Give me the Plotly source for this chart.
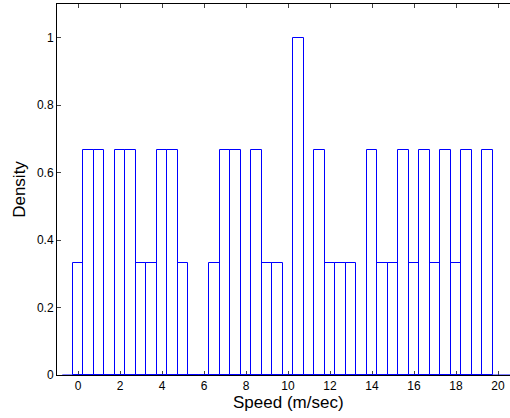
import plotly.graph_objects as go

bin_centers = [0.0, 0.5, 1.0, 1.5, 2.0, 2.5, 3.0, 3.5, 4.0, 4.5, 5.0, 5.5, 6.0, 6.5,
               7.0, 7.5, 8.0, 8.5, 9.0, 9.5, 10.0, 10.5, 11.0, 11.5, 12.0, 12.5, 13.0,
               13.5, 14.0, 14.5, 15.0, 15.5, 16.0, 16.5, 17.0, 17.5, 18.0, 18.5, 19.0, 19.5]
density = [1/3, 2/3, 2/3, 0, 2/3, 2/3, 1/3, 1/3, 2/3, 2/3, 1/3, 0, 0, 1/3,
           2/3, 2/3, 0, 2/3, 1/3, 1/3, 0, 1.0, 0, 2/3, 1/3, 1/3, 1/3,
           0, 2/3, 1/3, 1/3, 2/3, 1/3, 2/3, 1/3, 2/3, 1/3, 2/3, 0, 2/3]
bin_width = 0.5
baseline_x = [-0.75, 21.0]
baseline_y = [0, 0]
x_ticks = [0, 2, 4, 6, 8, 10, 12, 14, 16, 18, 20]
y_ticks = [0, 0.2, 0.4, 0.6, 0.8, 1]
y_tick_labels = ["0", "0.2", "0.4", "0.6", "0.8", "1"]
x_title = "Speed (m/sec)"
y_title = "Density"
x_full_range = [-1, 21]

fig = go.Figure()
fig.add_trace(go.Scatter(x=baseline_x, y=baseline_y, mode="lines",
                         line=dict(color="#0000FF", width=1), showlegend=False,
                         hoverinfo="skip", cliponaxis=False))
fig.add_trace(go.Bar(x=bin_centers, y=density, width=bin_width,
                     marker=dict(color="rgba(255,255,255,0)",
                                 line=dict(color="#0000FF", width=1)),
                     showlegend=False, cliponaxis=False))

font = "Liberation Sans, Arial, Helvetica, sans-serif"
fig.add_annotation(x=(x_full_range[0] + x_full_range[1]) / 2, xref="x",
                   y=-0.075, yref="paper", yanchor="middle",
                   text=x_title, showarrow=False,
                   font=dict(family=font, size=17, color="black"))

fig.update_layout(
    width=510, height=418,
    margin=dict(l=57, r=0, t=4, b=43),
    paper_bgcolor="white", plot_bgcolor="white",
    font=dict(family=font, color="black", size=12),
    bargap=0,
    xaxis=dict(range=[-1, 20.57], tickvals=x_ticks, ticks="inside", ticklen=4,
               showline=True, linecolor="black", linewidth=1, mirror="ticks",
               showgrid=False, zeroline=False, layer="below traces",
               tickfont=dict(size=12)),
    yaxis=dict(range=[0, 1.1], tickvals=y_ticks, ticktext=y_tick_labels,
               ticks="inside", ticklen=4,
               showline=True, linecolor="black", linewidth=1, mirror=False,
               showgrid=False, zeroline=False, layer="below traces",
               tickfont=dict(size=12),
               title=dict(text=y_title, font=dict(size=17), standoff=6)),
)

fig.write_html("out.html")
